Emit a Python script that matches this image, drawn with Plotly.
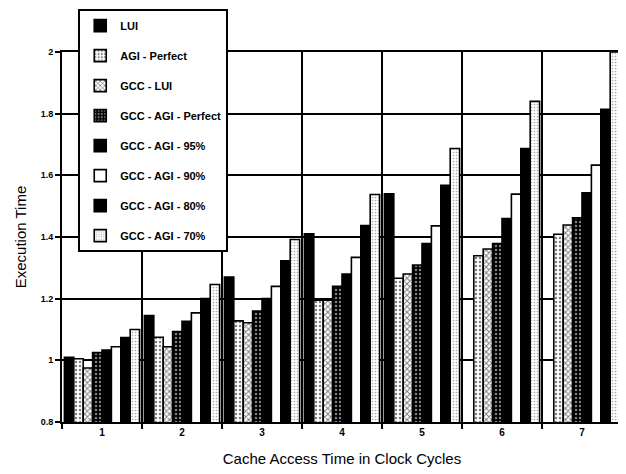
import plotly.graph_objects as go

groups = [1, 2, 3, 4, 5, 6, 7]
series_names = ["LUI", "AGI - Perfect", "GCC - LUI", "GCC - AGI - Perfect",
                "GCC - AGI - 95%", "GCC - AGI - 90%", "GCC - AGI - 80%", "GCC - AGI - 70%"]

lui          = [1.01, 1.145, 1.27, 1.41, 1.54, None, None]
agi_perfect  = [1.005, 1.075, 1.128, 1.195, 1.266, 1.339, 1.409]
gcc_lui      = [0.975, 1.044, 1.122, 1.195, 1.28, 1.361, 1.439]
gcc_agi_perf = [1.025, 1.093, 1.16, 1.24, 1.309, 1.379, 1.462]
gcc_agi_95   = [1.033, 1.127, 1.20, 1.28, 1.379, 1.46, 1.543]
gcc_agi_90   = [1.044, 1.154, 1.24, 1.334, 1.436, 1.539, 1.633]
gcc_agi_80   = [1.074, 1.20, 1.323, 1.437, 1.568, 1.687, 1.814]
gcc_agi_70   = [1.10, 1.246, 1.392, 1.538, 1.687, 1.84, 2.0]

series_values = [lui, agi_perfect, gcc_lui, gcc_agi_perf, gcc_agi_95, gcc_agi_90, gcc_agi_80, gcc_agi_70]

styles = [
    dict(color="black"),
    dict(color="white", pattern=dict(shape=".", bgcolor="white", fgcolor="black", size=4, solidity=0.3)),
    dict(color="white", pattern=dict(shape="x", bgcolor="white", fgcolor="black", size=4, solidity=0.45)),
    dict(color="black", pattern=dict(shape=".", bgcolor="black", fgcolor="white", size=4, solidity=0.3)),
    dict(color="black"),
    dict(color="white"),
    dict(color="black"),
    dict(color="white", pattern=dict(shape=".", bgcolor="white", fgcolor="#555", size=3, solidity=0.25)),
]

fig = go.Figure()
for name, vals, st in zip(series_names, series_values, styles):
    fig.add_trace(go.Bar(
        x=groups, y=vals, name=name, legendgroup=name,
        marker=dict(line=dict(color="black", width=1.6), **st),
    ))

fig.update_layout(
    width=618, height=466,
    margin=dict(l=54, r=4, t=44, b=52, autoexpand=False),
    paper_bgcolor="white", plot_bgcolor="white",
    barmode="group", bargap=0.06, bargroupgap=0,
    font=dict(family="Liberation Sans, Arial, sans-serif", color="black"),
    showlegend=True,
    legend=dict(
        x=0.029, y=1.116, xanchor="left", yanchor="top",
        bgcolor="white", bordercolor="black", borderwidth=2,
        font=dict(size=11, weight="bold"),
        tracegroupgap=11, traceorder="grouped",
        maxheight=420,
    ),
)

fig.update_xaxes(
    range=[0.5, 7.5], tickmode="array", tickvals=groups, ticktext=[str(g) for g in groups],
    ticks="", showgrid=False, showline=True, linecolor="black", linewidth=2, mirror=True,
    tickfont=dict(size=10, weight="bold"),
    minor=dict(tickmode="array", tickvals=[0.5, 1.5, 2.5, 3.5, 4.5, 5.5, 6.5, 7.5],
               ticks="outside", ticklen=5, tickcolor="black", tickwidth=1.5,
               showgrid=True, gridcolor="black", gridwidth=1.8),
    title=dict(text="Cache Access Time in Clock Cycles", font=dict(size=15), standoff=16),
    zeroline=False,
    automargin=False,
)
fig.update_yaxes(
    range=[0.8, 2.0], tick0=0.8, dtick=0.2,
    ticks="outside", ticklen=5, tickcolor="black", tickwidth=1.5,
    showgrid=True, gridcolor="black", gridwidth=1.8,
    showline=True, linecolor="black", linewidth=2,
    tickfont=dict(size=9, weight="bold"),
    title=dict(text="Execution Time", font=dict(size=15), standoff=10),
    zeroline=False,
    automargin=False,
)

fig.write_html("out.html")
